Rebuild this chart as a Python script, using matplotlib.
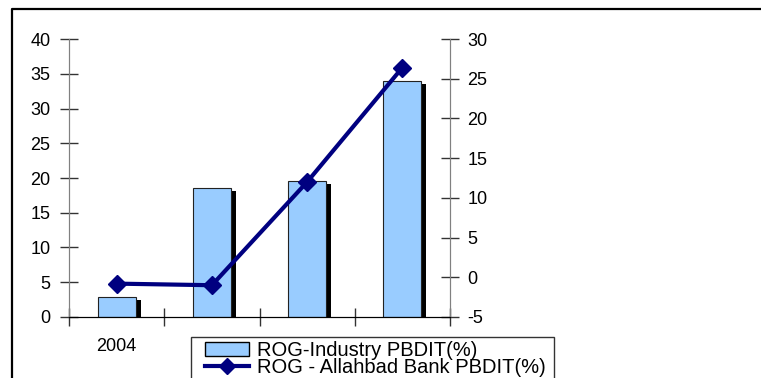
import matplotlib.pyplot as plt
import matplotlib.patches as mpatches
import matplotlib.patheffects as pe
from matplotlib.lines import Line2D
import numpy as np

plt.rcParams['font.family'] = ['Liberation Sans', 'DejaVu Sans']
plt.rcParams['axes.unicode_minus'] = False

years = ['2004', '2005', '2006', '2007']
industry_pbdit = [2.9, 18.5, 19.6, 33.9]
bank_pbdit = [-0.8, -1.0, 12.0, 26.4]

bar_color = '#99ccff'
line_color = '#000080'
spine_gray = '#808080'

W, H = 761, 378
fig = plt.figure(figsize=(W / 100, H / 100), dpi=100)
ax = fig.add_axes([0.0907, 0.1614, 0.5006, 0.7354])
x = np.arange(len(years))

bars = ax.bar(x, industry_pbdit, width=0.4, color=bar_color,
              edgecolor='#222222', linewidth=0.8, zorder=2)
for b in bars:
    b.set_path_effects([pe.SimplePatchShadow(offset=(3.6, -2.2), shadow_rgbFace='black', alpha=1.0),
                        pe.Normal()])

ax.set_xlim(-0.5, len(years) - 0.5)
ax.set_ylim(0, 40)
ax.set_yticks(range(0, 41, 5))
ax.set_xticks(np.arange(-0.5, len(years), 1.0))
ax.set_xticklabels([])
ax.set_xticks(x, minor=True)
ax.set_xticklabels(years, minor=True)
ax.tick_params(axis='x', which='major', direction='inout', length=13, width=1, color='#333333')
ax.tick_params(axis='x', which='minor', length=0, pad=15, labelsize=13)
ax.tick_params(axis='y', direction='inout', length=13, width=1, color='#333333', pad=7, labelsize=13)

ax2 = ax.twinx()
ax2.plot(x, bank_pbdit, color=line_color, lw=3, marker='D', ms=9.5, zorder=3)
ax2.set_ylim(-5, 30)
ax2.set_yticks(range(-5, 31, 5))
ax2.tick_params(axis='y', direction='inout', length=13, width=1, color='#333333', pad=6, labelsize=13)

for a in (ax, ax2):
    a.spines['top'].set_visible(False)
    a.spines['left'].set_color(spine_gray)
    a.spines['right'].set_color(spine_gray)
    a.spines['bottom'].set_color('black')
    a.patch.set_visible(False)

# outer frame, only left and top edges
fig.add_artist(Line2D([12 / W, 12 / W, 1.0], [0.0, 1 - 9 / H, 1 - 9 / H],
                      transform=fig.transFigure, color='black', lw=1.6))

# legend box runs off the bottom of the figure
fig.add_artist(mpatches.Rectangle((191 / W, -0.05), (554 - 191) / W, 0.05 + 1 - 337 / H,
                                  transform=fig.transFigure, facecolor='white',
                                  edgecolor='#333333', linewidth=1.0, zorder=5))

bar_patch = mpatches.Patch(facecolor=bar_color, edgecolor='black', linewidth=1.0,
                           label='ROG-Industry PBDIT(%)')
bank_line = Line2D([], [], color=line_color, lw=3, marker='D', ms=8,
                   label='ROG - Allahbad Bank PBDIT(%)')
leg = fig.legend(handles=[bar_patch, bank_line], loc='upper left',
                 bbox_to_anchor=(205 / W, 1 - 341 / H), bbox_transform=fig.transFigure,
                 borderaxespad=0, borderpad=0, fontsize=14.5, frameon=False,
                 handlelength=2.2, handletextpad=0.4, labelspacing=-0.12)
leg.set_zorder(6)

plt.savefig('out.png', dpi=100)
